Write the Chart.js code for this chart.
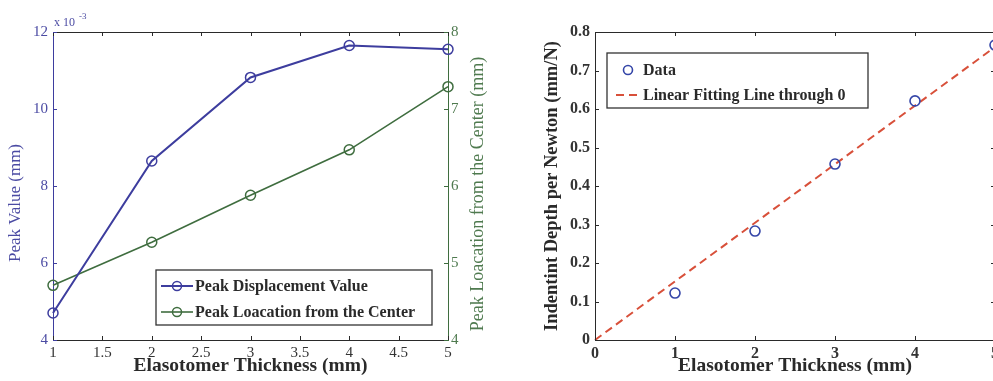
<!DOCTYPE html>
<html>
<head>
<meta charset="utf-8">
<script src="https://cdn.jsdelivr.net/npm/chart.js@4.4.1/dist/chart.umd.min.js"></script>
<style>
  html, body { margin: 0; padding: 0; background: #fff; overflow: hidden; }
  #wrap { position: relative; width: 993px; height: 381px; overflow: hidden; }
  canvas { position: absolute; top: 0; }
  #chart-peak { left: 0; }
  #chart-depth { left: 495px; }
</style>
</head>
<body>
<div id="wrap">
  <canvas id="chart-peak" width="495" height="381"></canvas>
  <canvas id="chart-depth" width="510" height="381"></canvas>
</div>
<script>
// elastomer layer thickness (mm)
const thickness = [1, 2, 3, 4, 5];
// peak displacement, in units of 1e-3 mm
const peakValue = [4.70, 8.65, 10.82, 11.65, 11.55];
// distance of the peak from the centre (mm)
const peakLocation = [4.71, 5.27, 5.88, 6.47, 7.29];
// measured indent depth per newton (mm/N)
const depthPerNewton = [0.122, 0.283, 0.457, 0.621, 0.766];
// fitted line through the origin, end points
const fitX = [0, 5];
const fitY = [0, 0.761];

Chart.defaults.font.family = 'Liberation Serif';
Chart.defaults.animation = false;

const blue = '#3d3d9e';
const blueText = '#4b4ba3';
const green = '#3f6d3f';
const greenText = '#4f7a4f';
const ink = '#2a2a2a';
const red = '#d8503a';

// plain numbers on the axes (1, 1.5, 2 ... rather than 1.0, 2.0)
const plain = v => String(Math.round(v * 100) / 100);

// short inward tick marks on every side of the plot box
function inwardTicks(sides) {
  return {
    id: 'inwardTicks',
    afterDraw(chart) {
      const { ctx, chartArea: a } = chart;
      ctx.save();
      ctx.lineWidth = 1;
      sides.forEach(s => {
        const scale = chart.scales[s.scale];
        ctx.strokeStyle = s.color;
        if (s.frame) {
          ctx.beginPath();
          if (s.side === 'top') { ctx.moveTo(a.left, a.top + 0.5); ctx.lineTo(a.right, a.top + 0.5); }
          if (s.side === 'right') { ctx.moveTo(a.right - 0.5, a.top); ctx.lineTo(a.right - 0.5, a.bottom); }
          ctx.stroke();
        }
        scale.ticks.forEach(t => {
          const p = Math.round(scale.getPixelForValue(t.value)) + 0.5;
          ctx.beginPath();
          if (s.side === 'bottom') { ctx.moveTo(p, a.bottom); ctx.lineTo(p, a.bottom - 4); }
          if (s.side === 'top') { ctx.moveTo(p, a.top); ctx.lineTo(p, a.top + 4); }
          if (s.side === 'left') { ctx.moveTo(a.left, p); ctx.lineTo(a.left + 4, p); }
          if (s.side === 'right') { ctx.moveTo(a.right, p); ctx.lineTo(a.right - 4, p); }
          ctx.stroke();
        });
      });
      ctx.restore();
    }
  };
}

// boxed legend inside the plot area
function legendBox(box, items) {
  return {
    id: 'legendBox',
    afterDraw(chart) {
      const ctx = chart.ctx;
      ctx.save();
      ctx.fillStyle = '#fff';
      ctx.fillRect(box.x, box.y, box.w, box.h);
      ctx.strokeStyle = '#333';
      ctx.lineWidth = 1.3;
      ctx.strokeRect(box.x, box.y, box.w, box.h);
      items.forEach(it => {
        const ds = chart.data.datasets[it.dataset];
        if (it.line) {
          ctx.strokeStyle = ds.borderColor;
          ctx.lineWidth = ds.borderWidth;
          ctx.setLineDash(ds.borderDash || []);
          ctx.beginPath();
          ctx.moveTo(it.line[0], it.y);
          ctx.lineTo(it.line[1], it.y);
          ctx.stroke();
          ctx.setLineDash([]);
        }
        if (it.marker) {
          ctx.strokeStyle = ds.pointBorderColor;
          ctx.lineWidth = ds.pointBorderWidth;
          ctx.beginPath();
          ctx.arc(it.marker, it.y, 4.5, 0, Math.PI * 2);
          ctx.stroke();
        }
        ctx.fillStyle = ink;
        ctx.font = 'bold 16px "Liberation Serif"';
        ctx.textBaseline = 'middle';
        ctx.fillText(it.text, it.textX, it.y + 1);
      });
      ctx.restore();
    }
  };
}

// rotated text reading bottom to top
function upText(ctx, text, x, y, font, color) {
  ctx.save();
  ctx.fillStyle = color;
  ctx.font = font;
  ctx.textAlign = 'center';
  ctx.textBaseline = 'middle';
  ctx.translate(x, y);
  ctx.rotate(-Math.PI / 2);
  ctx.fillText(text, 0, 0);
  ctx.restore();
}

// axis titles of the two-axis plot plus the exponent note
const peakExtras = {
  id: 'peakExtras',
  afterDraw(chart) {
    const { ctx, chartArea: a } = chart;
    ctx.save();
    ctx.fillStyle = blueText;
    ctx.textBaseline = 'alphabetic';
    ctx.font = '12px "Liberation Serif"';
    ctx.fillText('x 10', a.left + 1, 26);
    ctx.font = '9px "Liberation Serif"';
    ctx.fillText('-3', a.left + 26, 19);
    ctx.restore();
    upText(ctx, 'Peak Value (mm)', 16, 203, '17px "Liberation Serif"', blueText);
    upText(ctx, 'Peak Loacation from the Center (mm)', 478, 194, '18px "Liberation Serif"', greenText);
  }
};

const peakChart = new Chart(document.querySelector('#chart-peak'), {
  type: 'line',
  data: {
    datasets: [{
      label: 'Peak Displacement Value',
      data: thickness.map((x, i) => ({ x, y: peakValue[i] })),
      yAxisID: 'y',
      borderColor: blue,
      borderWidth: 2,
      pointRadius: 5,
      pointBorderWidth: 1.5,
      pointBorderColor: blue,
      pointBackgroundColor: 'rgba(0,0,0,0)',
      clip: false
    }, {
      label: 'Peak Loacation from the Center',
      data: thickness.map((x, i) => ({ x, y: peakLocation[i] })),
      yAxisID: 'y1',
      borderColor: green,
      borderWidth: 1.6,
      pointRadius: 5,
      pointBorderWidth: 1.5,
      pointBorderColor: green,
      pointBackgroundColor: 'rgba(0,0,0,0)',
      clip: false
    }]
  },
  options: {
    responsive: false,
    devicePixelRatio: 1,
    layout: { padding: { top: 32, left: 0, right: 0, bottom: 0 } },
    plugins: { legend: { display: false }, tooltip: { enabled: false } },
    scales: {
      x: {
        type: 'linear', min: 1, max: 5,
        ticks: { stepSize: 0.5, font: { size: 15 }, color: '#333', padding: 4, maxRotation: 0, callback: plain },
        grid: { display: false, drawTicks: false },
        border: { display: true, color: ink, width: 1 },
        title: { display: true, text: 'Elasotomer Thickness (mm)', color: ink,
                 font: { size: 19.5, weight: 'bold' }, padding: { top: 0, bottom: 3 } },
        afterFit(s) { s.height = 41; }
      },
      y: {
        position: 'left', min: 4, max: 12,
        ticks: { stepSize: 2, font: { size: 15 }, color: blueText, padding: 5, callback: plain },
        grid: { display: false, drawTicks: false },
        border: { display: true, color: blue, width: 1 },
        afterFit(s) { s.width = 53; }
      },
      y1: {
        position: 'right', min: 4, max: 8,
        ticks: { stepSize: 1, font: { size: 15 }, color: greenText, padding: 3, callback: plain },
        grid: { display: false, drawTicks: false },
        border: { display: true, color: green, width: 1 },
        afterFit(s) { s.width = 47; }
      }
    }
  },
  plugins: [
    inwardTicks([
      { scale: 'x', side: 'bottom', color: ink },
      { scale: 'x', side: 'top', color: ink, frame: true },
      { scale: 'y', side: 'left', color: blue },
      { scale: 'y1', side: 'right', color: green }
    ]),
    legendBox({ x: 156, y: 270, w: 276, h: 55 }, [
      { dataset: 0, y: 286, line: [161, 193], marker: 177, text: 'Peak Displacement Value', textX: 195 },
      { dataset: 1, y: 312, line: [161, 193], marker: 177, text: 'Peak Loacation from the Center', textX: 195 }
    ]),
    peakExtras
  ]
});

const depthChart = new Chart(document.querySelector('#chart-depth'), {
  type: 'scatter',
  data: {
    datasets: [{
      label: 'Data',
      data: thickness.map((x, i) => ({ x, y: depthPerNewton[i] })),
      showLine: false,
      pointRadius: 5,
      pointBorderWidth: 1.6,
      pointBorderColor: '#3546a8',
      pointBackgroundColor: 'rgba(0,0,0,0)',
      clip: false
    }, {
      label: 'Linear Fitting Line through 0',
      data: fitX.map((x, i) => ({ x, y: fitY[i] })),
      showLine: true,
      borderColor: red,
      borderWidth: 2,
      borderDash: [8, 5],
      pointRadius: 0,
      clip: false
    }]
  },
  options: {
    responsive: false,
    devicePixelRatio: 1,
    layout: { padding: { top: 32, left: 0, right: 10, bottom: 0 } },
    plugins: { legend: { display: false }, tooltip: { enabled: false } },
    scales: {
      x: {
        type: 'linear', min: 0, max: 5,
        ticks: { stepSize: 1, font: { size: 16, weight: 'bold' }, color: '#333', padding: 4, maxRotation: 0, callback: plain },
        grid: { display: false, drawTicks: false },
        border: { display: true, color: ink, width: 1 },
        title: { display: true, text: 'Elasotomer Thickness (mm)', color: ink,
                 font: { size: 19.5, weight: 'bold' }, padding: { top: 0, bottom: 3 } },
        afterFit(s) { s.height = 41; }
      },
      y: {
        min: 0, max: 0.8,
        ticks: { stepSize: 0.1, font: { size: 16, weight: 'bold' }, color: '#333', padding: 5, callback: plain },
        grid: { display: false, drawTicks: false },
        border: { display: true, color: ink, width: 1 },
        title: { display: true, text: 'Indentint Depth per Newton (mm/N)', color: ink,
                 font: { size: 18.5, weight: 'bold' }, padding: { top: 46, bottom: 0 } },
        afterFit(s) { s.width = 100; }
      }
    }
  },
  plugins: [
    inwardTicks([
      { scale: 'x', side: 'bottom', color: ink },
      { scale: 'x', side: 'top', color: ink, frame: true },
      { scale: 'y', side: 'left', color: ink },
      { scale: 'y', side: 'right', color: ink, frame: true }
    ]),
    legendBox({ x: 112, y: 53, w: 261, h: 55 }, [
      { dataset: 0, y: 70, marker: 133, text: 'Data', textX: 148 },
      { dataset: 1, y: 95, line: [121, 143], text: 'Linear Fitting Line through 0', textX: 148 }
    ])
  ]
});
</script>
</body>
</html>
